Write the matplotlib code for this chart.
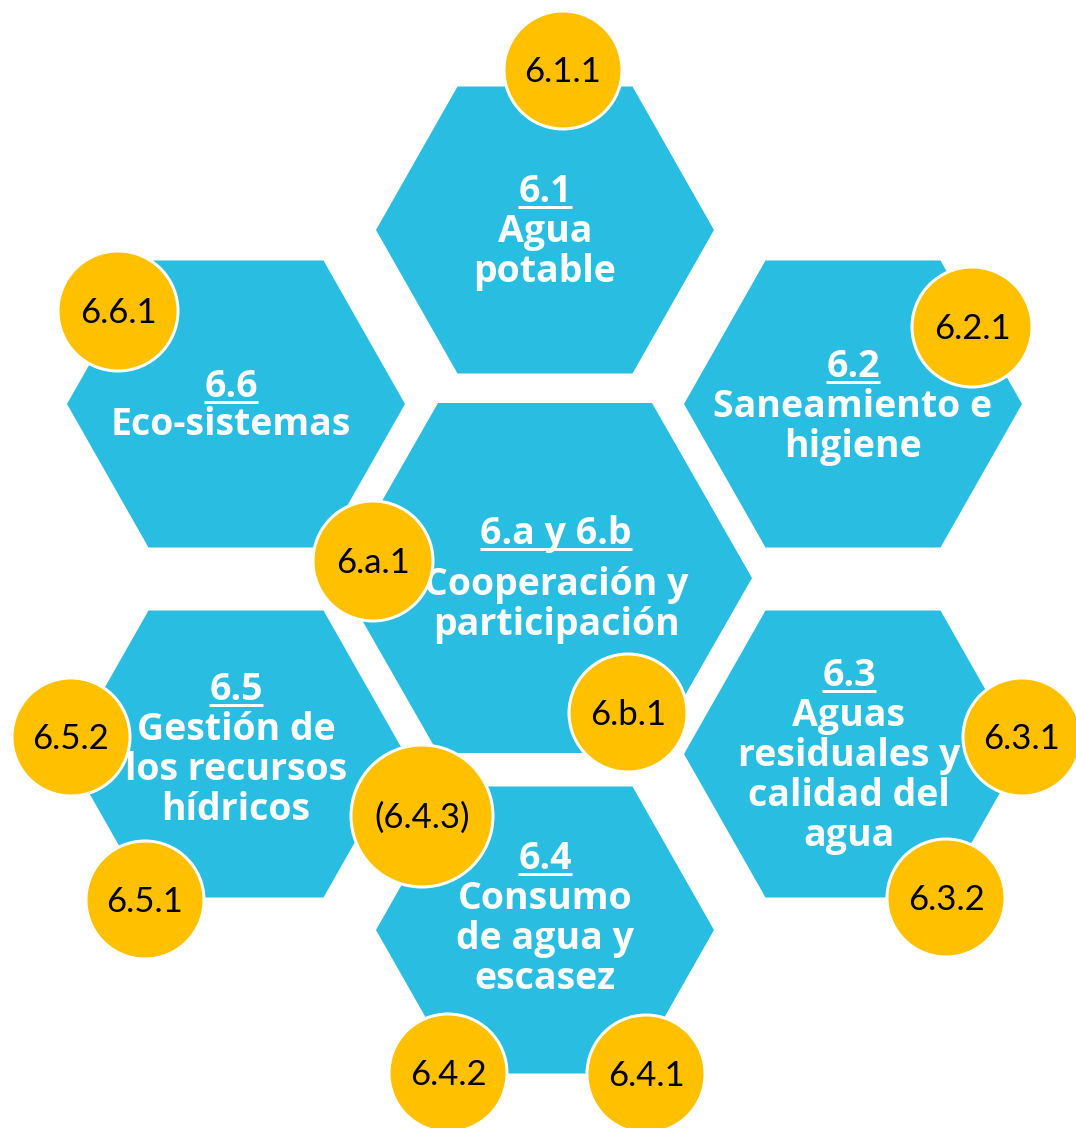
import matplotlib

matplotlib.use("Agg")
import matplotlib.pyplot as plt
from matplotlib.patches import Circle, Polygon

# --- content -------------------------------------------------------------
goal_codes = ["6.1", "6.2", "6.3", "6.4", "6.5", "6.6", "6.a y 6.b"]
goal_names = [
    ["Agua", "potable"],
    ["Saneamiento e", "higiene"],
    ["Aguas", "residuales y", "calidad del", "agua"],
    ["Consumo", "de agua y", "escasez"],
    ["Gestión de", "los recursos", "hídricos"],
    ["Eco-sistemas"],
    ["Cooperación y", "participación"],
]
indicator_labels = [
    "6.1.1", "6.2.1", "6.3.1", "6.3.2", "6.4.1", "6.4.2",
    "(6.4.3)", "6.5.1", "6.5.2", "6.6.1", "6.a.1", "6.b.1",
]

# --- layout (pixel units, y down) ----------------------------------------
hex_centers = [(545, 230), (853, 404), (853, 754), (545, 930),
               (236, 754), (236, 404), (545, 578)]
hex_big = [False, False, False, False, False, False, True]
# x centre of text, baseline of the underlined code line, gap after code line
text_anchors = [(545, 202, 40), (853, 377, 40), (849, 686, 40), (545, 869, 40),
                (236, 700, 40), (231, 397, 38), (556, 544, 51)]
circle_centers = [(563, 70), (972, 327), (1022, 737), (946, 898), (646, 1074),
                  (448, 1073), (422, 816), (145, 900), (71, 737), (118, 311),
                  (373, 561), (628, 713)]
circle_radius = [59, 60, 59, 59, 59, 59, 71, 59, 59, 60, 60, 59]

HEX_COLOR = "#2abde2"
CIRCLE_COLOR = "#ffc000"
W, H = 1076, 1128
PX = 72 / 100  # points per pixel at dpi 100


def hexagon(cx, cy, big):
    a, b, c = (207, 175, 107) if big else (169, 143.5, 87.5)
    return [(cx - a, cy), (cx - c, cy - b), (cx + c, cy - b),
            (cx + a, cy), (cx + c, cy + b), (cx - c, cy + b)]


def main() -> None:
    fig = plt.figure(figsize=(W / 100, H / 100), dpi=100)
    ax = fig.add_axes([0, 0, 1, 1])
    ax.set_xlim(0, W)
    ax.set_ylim(H, 0)
    ax.set_aspect("equal")
    ax.axis("off")

    renderer = fig.canvas.get_renderer()
    hex_font = dict(family="Open Sans", weight="bold", size=27, color="white")

    for (cx, cy), big, code, name, (tx, ty, gap) in zip(
        hex_centers, hex_big, goal_codes, goal_names, text_anchors
    ):
        ax.add_patch(Polygon(hexagon(cx, cy, big), closed=True,
                             facecolor=HEX_COLOR, edgecolor="none", zorder=1))
        t = ax.text(tx, ty, code, ha="center", va="baseline", zorder=2, **hex_font)
        bb = t.get_window_extent(renderer)
        ax.plot([tx - bb.width / 2, tx + bb.width / 2], [ty + 5, ty + 5],
                color="white", lw=3 * PX, solid_capstyle="butt", zorder=2)
        for i, line in enumerate(name):
            ax.text(tx, ty + gap + 40 * i, line, ha="center", va="baseline",
                    zorder=2, **hex_font)

    for (cx, cy), r, label in zip(circle_centers, circle_radius, indicator_labels):
        ax.add_patch(Circle((cx, cy), r, facecolor=CIRCLE_COLOR,
                            edgecolor="white", lw=3 * PX, zorder=3))
        ax.text(cx, cy + 12, label, ha="center", va="baseline", zorder=4,
                family="Lato", size=25, color="black")

    fig.savefig("out.png", dpi=100)
    plt.close(fig)


if __name__ == "__main__":
    main()
